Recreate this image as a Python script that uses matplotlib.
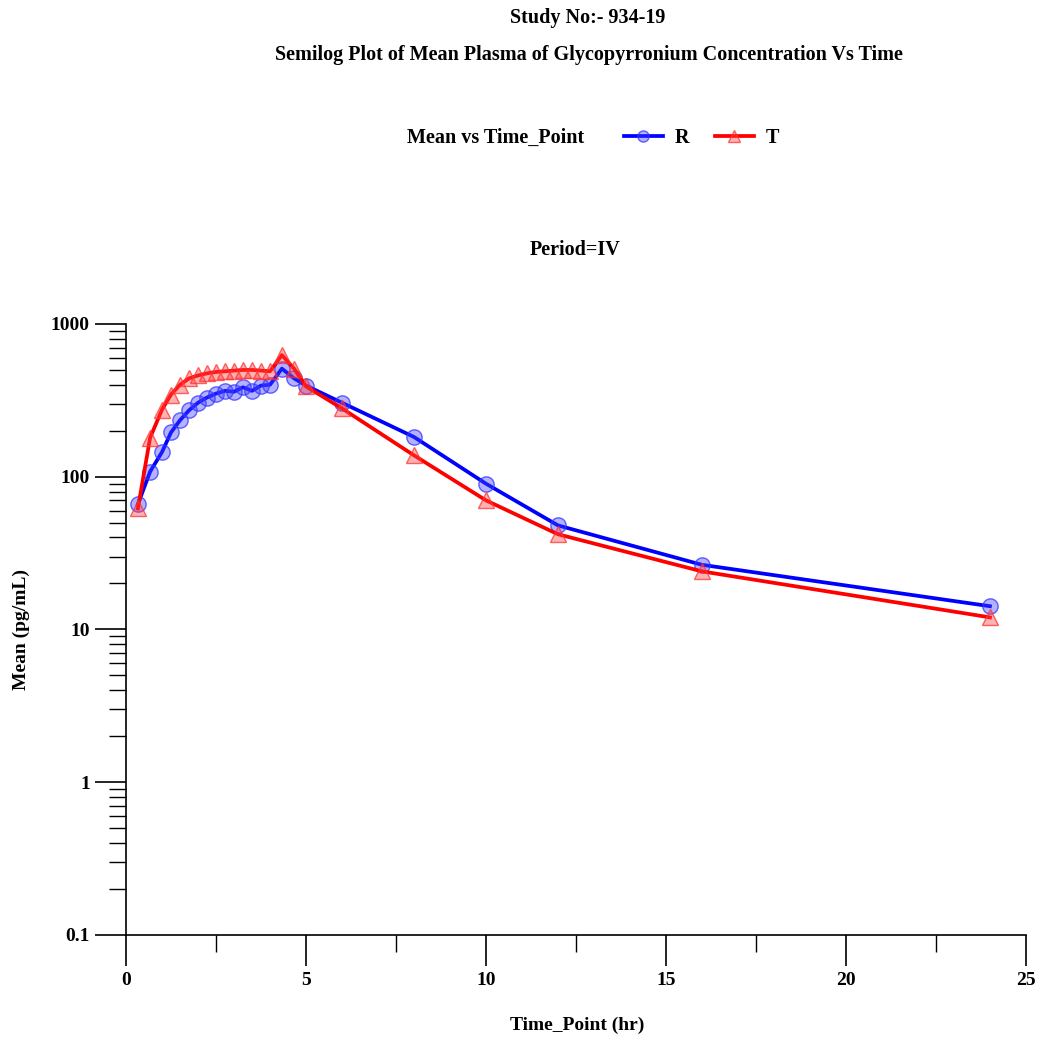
import numpy as np
import matplotlib
matplotlib.use('Agg')
import matplotlib.pyplot as plt
from matplotlib.ticker import LogLocator, MultipleLocator, FixedFormatter, NullFormatter
from matplotlib.lines import Line2D

# Data
time_r = [0.33, 0.67, 1.0, 1.25, 1.5, 1.75, 2.0, 2.25, 2.5, 2.75, 3.0, 3.25, 3.5, 3.75, 4.0,
          4.33, 4.67, 5.0, 6, 8, 10, 12, 16, 24]
mean_r = [66, 108, 145, 195, 234, 272, 305, 330, 350, 365, 360, 385, 365, 395, 400,
          510, 440, 395, 305, 182, 90, 48, 26.5, 14.2]
time_t = time_r
mean_t = [62, 180, 275, 345, 400, 440, 460, 475, 485, 490, 495, 500, 500, 495, 490,
          625, 510, 390, 280, 138, 70, 42, 24, 12]
y_ticks = [0.1, 1, 10, 100, 1000]
y_tick_labels = ['0.1', '1', '10', '100', '1000']
x_ticks = [0, 5, 10, 15, 20, 25]

plt.rcParams['font.family'] = ['Liberation Serif', 'DejaVu Serif']
plt.rcParams['font.weight'] = 'bold'

fig = plt.figure(figsize=(10.38, 10.37), dpi=100)
ax = fig.add_axes([0.1214, 0.0984, 0.867, 0.5892])

r_face = (0.25, 0.25, 1.0, 0.4)
r_edge = (0.2, 0.2, 1.0, 0.75)
t_face = (1.0, 0.25, 0.25, 0.4)
t_edge = (1.0, 0.2, 0.2, 0.75)

# R series
ax.plot(time_r, mean_r, color='#0000FF', lw=2.7, marker='o', markersize=11,
        markerfacecolor=r_face, markeredgecolor=r_edge, markeredgewidth=1, zorder=3)
# T series
ax.plot(time_t, mean_t, color='#FF0000', lw=2.7, marker='^', markersize=11,
        markerfacecolor=t_face, markeredgecolor=t_edge, markeredgewidth=1, zorder=4)

ax.set_yscale('log')
ax.set_ylim(0.1, 1000)
ax.set_xlim(0, 25)
ax.set_yticks(y_ticks)
ax.yaxis.set_major_formatter(FixedFormatter(y_tick_labels))
ax.yaxis.set_minor_locator(LogLocator(base=10, subs=np.arange(2, 10)))
ax.yaxis.set_minor_formatter(NullFormatter())
ax.set_xticks(x_ticks)
ax.xaxis.set_minor_locator(MultipleLocator(2.5))

ax.spines['top'].set_visible(False)
ax.spines['right'].set_visible(False)
for s in ['left', 'bottom']:
    ax.spines[s].set_linewidth(1.2)
ax.tick_params(which='major', length=22, width=1.2, labelsize=14, pad=4)
ax.tick_params(which='minor', length=12, width=1.0)
ax.tick_params(axis='x', which='major', pad=5)
for lab in ax.get_xticklabels() + ax.get_yticklabels():
    lab.set_fontweight('bold')

# Axis labels
fig.text(0.556, 0.011, 'Time_Point (hr)', ha='center', va='center', fontsize=14, fontweight='bold')
fig.text(0.021, 0.393, 'Mean (pg/mL)', ha='center', va='center', rotation=90,
         fontsize=14, fontweight='bold')

# Titles
fig.text(0.566, 0.983, 'Study No:- 934-19', ha='center', va='center', fontsize=14.5, fontweight='bold')
fig.text(0.567, 0.947, 'Semilog Plot of Mean Plasma of Glycopyrronium Concentration Vs Time',
         ha='center', va='center', fontsize=14.5, fontweight='bold')
fig.text(0.554, 0.759, 'Period=IV', ha='center', va='center', fontsize=14.5, fontweight='bold')

# Legend
fig.text(0.477, 0.867, 'Mean vs Time_Point', ha='center', va='center', fontsize=14.5, fontweight='bold')
handles = [
    Line2D([], [], color='#0000FF', lw=2.7, marker='o', markersize=8,
           markerfacecolor=r_face, markeredgecolor=r_edge),
    Line2D([], [], color='#FF0000', lw=2.7, marker='^', markersize=8,
           markerfacecolor=t_face, markeredgecolor=t_edge),
]
fig.legend(handles, ['R', 'T'], loc='center left', bbox_to_anchor=(0.584, 0.867), ncol=2,
           frameon=False, handlelength=1.9, handletextpad=0.6, columnspacing=1.3,
           prop={'size': 14.5, 'weight': 'bold'})

fig.savefig('out.png', dpi=100)
